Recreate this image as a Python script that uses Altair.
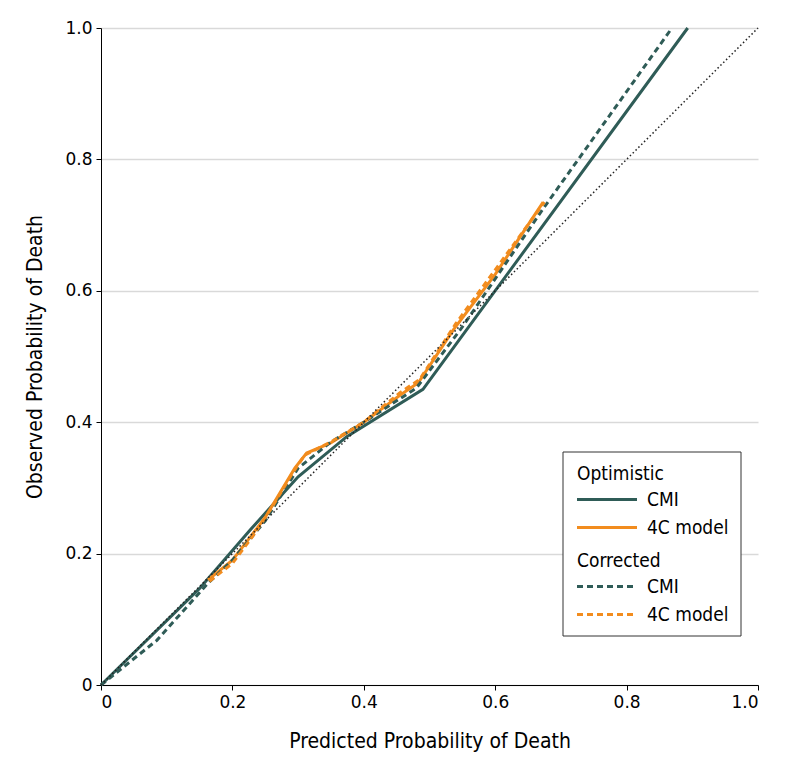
import altair as alt
import pandas as pd

GREEN = "#2f5c57"
ORANGE = "#f28c1e"

# Diagonal reference
diag_x = [0.0, 1.0]
diag_y = [0.0, 1.0]

# Optimistic CMI (solid green)
opt_cmi_x = [0.0, 0.15, 0.227, 0.30, 0.374, 0.49, 0.893]
opt_cmi_y = [0.0, 0.147, 0.236, 0.317, 0.378, 0.45, 1.0]

# Optimistic 4C model (solid orange)
opt_4c_x = [0.163, 0.20, 0.227, 0.25, 0.272, 0.295, 0.313, 0.349, 0.40, 0.455, 0.483, 0.536, 0.60, 0.673]
opt_4c_y = [0.160, 0.19, 0.225, 0.255, 0.292, 0.330, 0.353, 0.368, 0.40, 0.441, 0.460, 0.540, 0.625, 0.735]

# Corrected CMI (dashed green)
cor_cmi_x = [0.0, 0.085, 0.163, 0.20, 0.25, 0.30, 0.35, 0.40, 0.48, 0.55, 0.673, 0.869]
cor_cmi_y = [0.0, 0.068, 0.155, 0.19, 0.25, 0.33, 0.37, 0.40, 0.452, 0.545, 0.725, 1.0]

# Corrected 4C model (dashed orange)
cor_4c_x = [0.165, 0.20, 0.23, 0.26, 0.29, 0.31, 0.35, 0.40, 0.455, 0.485, 0.54, 0.60, 0.675]
cor_4c_y = [0.158, 0.185, 0.225, 0.27, 0.32, 0.35, 0.37, 0.40, 0.445, 0.465, 0.55, 0.632, 0.735]

ticks = [0, 0.2, 0.4, 0.6, 0.8, 1.0]
models = ["CMI", "4C model"]


def frame(xs, ys, model):
    return pd.DataFrame({"x": xs, "y": ys, "model": model, "i": range(len(xs))})


diag_df = pd.DataFrame({"x": diag_x, "y": diag_y})
opt_df = pd.concat([frame(opt_cmi_x, opt_cmi_y, "CMI"), frame(opt_4c_x, opt_4c_y, "4C model")])
cor_df = pd.concat([frame(cor_cmi_x, cor_cmi_y, "CMI"), frame(cor_4c_x, cor_4c_y, "4C model")])

label_expr = "datum.value == 0 ? '0' : format(datum.value, '.1f')"

CFONT = "DejaVu Sans Condensed"

xenc = alt.X(
    "x:Q",
    scale=alt.Scale(domain=[0, 1], nice=False),
    axis=alt.Axis(
        values=ticks,
        labelExpr=label_expr,
        grid=False,
        title="Predicted Probability of Death",
    ),
)
yenc = alt.Y(
    "y:Q",
    scale=alt.Scale(domain=[0, 1], nice=False),
    axis=alt.Axis(
        values=ticks,
        labelExpr=label_expr,
        grid=True,
        title="Observed Probability of Death",
    ),
)

SYMBOL = "M-1.9,0H10.1"


def legend(title, dash=None, y=0):
    kw = dict(
        title=title,
        orient="none",
        legendX=476,
        legendY=y,
        symbolType=SYMBOL,
        symbolSize=100,
        symbolStrokeWidth=3,
        labelOffset=51,
        rowPadding=8,
        titlePadding=6,
        padding=0,
        labelFontSize=19,
        titleFontSize=19,
        titleFontWeight="normal",
        labelFont=CFONT,
        titleFont=CFONT,
        labelColor="black",
        titleColor="black",
        labelLimit=300,
    )
    if dash:
        kw["symbolDash"] = dash
    return alt.Legend(**kw)


diag = alt.Chart(diag_df).mark_line(
    color="#222222", strokeWidth=1.5, strokeDash=[1.5, 2.5]
).encode(x=xenc, y=yenc)

opt = alt.Chart(opt_df).mark_line(strokeWidth=3).encode(
    x=xenc,
    y=yenc,
    order="i:Q",
    color=alt.Color(
        "model:N",
        scale=alt.Scale(domain=models, range=[GREEN, ORANGE]),
        legend=legend("Optimistic", y=437),
    ),
)

cor = alt.Chart(cor_df).mark_line(strokeWidth=3, strokeDash=[6, 4]).encode(
    x=xenc,
    y=yenc,
    order="i:Q",
    color=alt.Color(
        "model:N",
        scale=alt.Scale(domain=models, range=[GREEN, ORANGE]),
        legend=legend("Corrected", dash=[6, 4], y=524),
    ),
)

box = alt.Chart(alt.Data(values=[{"a": 1}])).mark_rect(
    fill="white", stroke="#333333", strokeWidth=1
).encode(
    x=alt.value(462), x2=alt.value(640), y=alt.value(424), y2=alt.value(608)
)

chart = (
    alt.layer(opt, cor, diag, box)
    .resolve_scale(color="independent")
    .properties(
        width=657,
        height=657,
        autosize="none",
        padding={"left": 93, "top": 20, "right": 28, "bottom": 84},
    )
    .configure_view(stroke=None)
    .configure_axis(
        domainColor="black",
        domainWidth=1,
        tickColor="black",
        tickSize=5,
        labelFont="DejaVu Sans",
        labelFontSize=17,
        labelColor="black",
        labelPadding=4,
        titleFont=CFONT,
        titleFontSize=21,
        titleFontWeight="normal",
        titleColor="black",
        gridColor="#d9d9d9",
        gridWidth=1.5,
    )
    .configure_axisX(titlePadding=20)
    .configure_axisY(titlePadding=19)
)

chart.save("out.html", embed_options={"renderer": "svg", "actions": False})
